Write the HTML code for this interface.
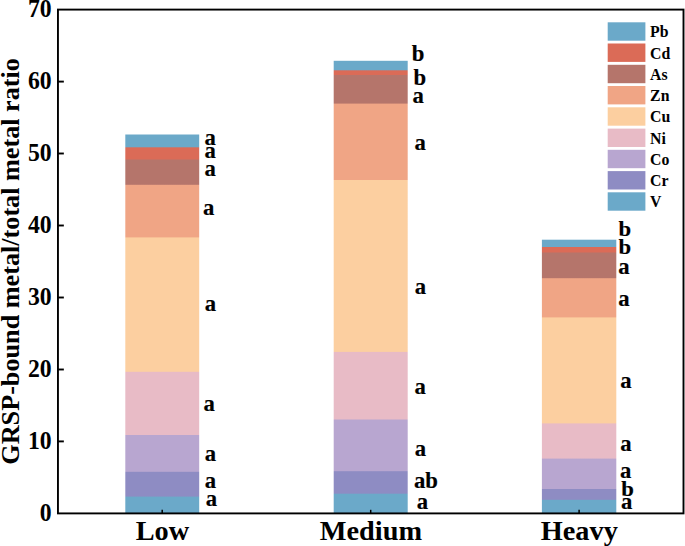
<!DOCTYPE html>
<html><head><meta charset="utf-8"><style>
html,body{margin:0;padding:0;background:#fff;}
svg{display:block}
text{font-family:"Liberation Serif","Times New Roman",serif;font-weight:bold;fill:#000}
</style></head><body>
<svg width="685" height="546" viewBox="0 0 685 546">
<rect width="685" height="546" fill="#fff"/>
<defs>
<linearGradient id="gLow" gradientUnits="userSpaceOnUse" x1="0" y1="134.5" x2="0" y2="515.4"><stop offset="0.00000" stop-color="#6BA9C9"/><stop offset="0.03229" stop-color="#6BA9C9"/><stop offset="0.03492" stop-color="#DB6B57"/><stop offset="0.06432" stop-color="#DB6B57"/><stop offset="0.06695" stop-color="#B5756B"/><stop offset="0.13074" stop-color="#B5756B"/><stop offset="0.13337" stop-color="#F0A585"/><stop offset="0.26884" stop-color="#F0A585"/><stop offset="0.27146" stop-color="#FCCFA0"/><stop offset="0.62169" stop-color="#FCCFA0"/><stop offset="0.62431" stop-color="#E8BBC6"/><stop offset="0.78761" stop-color="#E8BBC6"/><stop offset="0.79023" stop-color="#B8A6D0"/><stop offset="0.88422" stop-color="#B8A6D0"/><stop offset="0.88685" stop-color="#8E8CC3"/><stop offset="0.94933" stop-color="#8E8CC3"/><stop offset="0.95196" stop-color="#6BA9C9"/><stop offset="1.00000" stop-color="#6BA9C9"/></linearGradient>
<linearGradient id="gMedium" gradientUnits="userSpaceOnUse" x1="0" y1="60.8" x2="0" y2="515.4"><stop offset="0.00000" stop-color="#6BA9C9"/><stop offset="0.01980" stop-color="#6BA9C9"/><stop offset="0.02200" stop-color="#DB6B57"/><stop offset="0.03014" stop-color="#DB6B57"/><stop offset="0.03234" stop-color="#B5756B"/><stop offset="0.09305" stop-color="#B5756B"/><stop offset="0.09525" stop-color="#F0A585"/><stop offset="0.26111" stop-color="#F0A585"/><stop offset="0.26331" stop-color="#FCCFA0"/><stop offset="0.63924" stop-color="#FCCFA0"/><stop offset="0.64144" stop-color="#E8BBC6"/><stop offset="0.78795" stop-color="#E8BBC6"/><stop offset="0.79015" stop-color="#B8A6D0"/><stop offset="0.90167" stop-color="#B8A6D0"/><stop offset="0.90387" stop-color="#8E8CC3"/><stop offset="0.95117" stop-color="#8E8CC3"/><stop offset="0.95337" stop-color="#6BA9C9"/><stop offset="1.00000" stop-color="#6BA9C9"/></linearGradient>
<linearGradient id="gHeavy" gradientUnits="userSpaceOnUse" x1="0" y1="239.7" x2="0" y2="515.4"><stop offset="0.00000" stop-color="#6BA9C9"/><stop offset="0.02466" stop-color="#6BA9C9"/><stop offset="0.02829" stop-color="#DB6B57"/><stop offset="0.04461" stop-color="#DB6B57"/><stop offset="0.04824" stop-color="#B5756B"/><stop offset="0.13783" stop-color="#B5756B"/><stop offset="0.14146" stop-color="#F0A585"/><stop offset="0.28001" stop-color="#F0A585"/><stop offset="0.28364" stop-color="#FCCFA0"/><stop offset="0.66449" stop-color="#FCCFA0"/><stop offset="0.66812" stop-color="#E8BBC6"/><stop offset="0.79217" stop-color="#E8BBC6"/><stop offset="0.79579" stop-color="#B8A6D0"/><stop offset="0.90243" stop-color="#B8A6D0"/><stop offset="0.90606" stop-color="#8E8CC3"/><stop offset="0.94160" stop-color="#8E8CC3"/><stop offset="0.94523" stop-color="#6BA9C9"/><stop offset="1.00000" stop-color="#6BA9C9"/></linearGradient>
</defs>
<rect x="125.3" y="134.5" width="73.9" height="378.9" fill="url(#gLow)"/>
<rect x="333.7" y="60.8" width="74.0" height="452.6" fill="url(#gMedium)"/>
<rect x="541.9" y="239.7" width="74.4" height="273.7" fill="url(#gHeavy)"/>
<rect x="57.95" y="9.6" width="625.55" height="503.8" fill="none" stroke="#000" stroke-width="1.9"/>
<text transform="translate(51.6,521.0) scale(1,1.06)" font-size="23.7" text-anchor="end">0</text>
<line x1="57.95" x2="63.85" y1="441.4" y2="441.4" stroke="#000" stroke-width="1.9"/>
<text transform="translate(51.6,449.0) scale(1,1.06)" font-size="23.7" text-anchor="end">10</text>
<line x1="57.95" x2="63.85" y1="369.5" y2="369.5" stroke="#000" stroke-width="1.9"/>
<text transform="translate(51.6,377.1) scale(1,1.06)" font-size="23.7" text-anchor="end">20</text>
<line x1="57.95" x2="63.85" y1="297.5" y2="297.5" stroke="#000" stroke-width="1.9"/>
<text transform="translate(51.6,305.1) scale(1,1.06)" font-size="23.7" text-anchor="end">30</text>
<line x1="57.95" x2="63.85" y1="225.5" y2="225.5" stroke="#000" stroke-width="1.9"/>
<text transform="translate(51.6,233.1) scale(1,1.06)" font-size="23.7" text-anchor="end">40</text>
<line x1="57.95" x2="63.85" y1="153.5" y2="153.5" stroke="#000" stroke-width="1.9"/>
<text transform="translate(51.6,161.1) scale(1,1.06)" font-size="23.7" text-anchor="end">50</text>
<line x1="57.95" x2="63.85" y1="81.6" y2="81.6" stroke="#000" stroke-width="1.9"/>
<text transform="translate(51.6,89.2) scale(1,1.06)" font-size="23.7" text-anchor="end">60</text>
<text transform="translate(51.6,17.2) scale(1,1.06)" font-size="23.7" text-anchor="end">70</text>
<line x1="162.2" x2="162.2" y1="513.4" y2="509.79999999999995" stroke="#000" stroke-width="1.5"/>
<text x="162.4" y="539.8" font-size="28.3" text-anchor="middle">Low</text>
<line x1="370.7" x2="370.7" y1="513.4" y2="509.79999999999995" stroke="#000" stroke-width="1.5"/>
<text x="370.9" y="539.8" font-size="28.3" text-anchor="middle">Medium</text>
<line x1="579.1" x2="579.1" y1="513.4" y2="509.79999999999995" stroke="#000" stroke-width="1.5"/>
<text x="579.3" y="539.8" font-size="28.3" text-anchor="middle">Heavy</text>
<text transform="translate(18.9,261.4) rotate(-90)" font-size="26.2" text-anchor="middle">GRSP-bound metal/total metal ratio</text>
<rect x="607.7" y="22.3" width="37.7" height="18.4" fill="#6BA9C9"/>
<text x="650.1" y="37.3" font-size="15.8">Pb</text>
<rect x="607.7" y="43.5" width="37.7" height="18.4" fill="#DB6B57"/>
<text x="650.1" y="58.5" font-size="15.8">Cd</text>
<rect x="607.7" y="64.8" width="37.7" height="18.4" fill="#B5756B"/>
<text x="650.1" y="79.8" font-size="15.8">As</text>
<rect x="607.7" y="86.0" width="37.7" height="18.4" fill="#F0A585"/>
<text x="650.1" y="101.0" font-size="15.8">Zn</text>
<rect x="607.7" y="107.3" width="37.7" height="18.4" fill="#FCCFA0"/>
<text x="650.1" y="122.3" font-size="15.8">Cu</text>
<rect x="607.7" y="128.6" width="37.7" height="18.4" fill="#E8BBC6"/>
<text x="650.1" y="143.6" font-size="15.8">Ni</text>
<rect x="607.7" y="149.8" width="37.7" height="18.4" fill="#B8A6D0"/>
<text x="650.1" y="164.8" font-size="15.8">Co</text>
<rect x="607.7" y="171.1" width="37.7" height="18.4" fill="#8E8CC3"/>
<text x="650.1" y="186.1" font-size="15.8">Cr</text>
<rect x="607.7" y="192.3" width="37.7" height="18.4" fill="#6BA9C9"/>
<text x="650.1" y="207.3" font-size="15.8">V</text>
<text transform="translate(205.8,506.4) scale(1,1)" font-size="22.7" stroke="#000" stroke-width="0.2">a</text>
<text transform="translate(204.7,488.4) scale(1,1)" font-size="22.7" stroke="#000" stroke-width="0.2">a</text>
<text transform="translate(204.7,460.9) scale(1,1)" font-size="22.7" stroke="#000" stroke-width="0.2">a</text>
<text transform="translate(203.5,410.6) scale(1,1)" font-size="22.7" stroke="#000" stroke-width="0.2">a</text>
<text transform="translate(204.7,310.6) scale(1,1)" font-size="22.7" stroke="#000" stroke-width="0.2">a</text>
<text transform="translate(203.1,215.4) scale(1,1)" font-size="22.7" stroke="#000" stroke-width="0.2">a</text>
<text transform="translate(204.5,176.2) scale(1,1)" font-size="22.7" stroke="#000" stroke-width="0.2">a</text>
<text transform="translate(204.5,157.9) scale(1,1)" font-size="22.7" stroke="#000" stroke-width="0.2">a</text>
<text transform="translate(204.4,145.4) scale(1,1)" font-size="22.7" stroke="#000" stroke-width="0.2">a</text>
<text transform="translate(416.8,508.7) scale(1,1)" font-size="22.7" stroke="#000" stroke-width="0.2">a</text>
<text transform="translate(414.0,488.4) scale(1,1)" font-size="22.7" stroke="#000" stroke-width="0.2">ab</text>
<text transform="translate(414.8,456.4) scale(1,1)" font-size="22.7" stroke="#000" stroke-width="0.2">a</text>
<text transform="translate(414.4,394.2) scale(1,1)" font-size="22.7" stroke="#000" stroke-width="0.2">a</text>
<text transform="translate(414.7,294.2) scale(1,1)" font-size="22.7" stroke="#000" stroke-width="0.2">a</text>
<text transform="translate(414.4,150.1) scale(1,1)" font-size="22.7" stroke="#000" stroke-width="0.2">a</text>
<text transform="translate(412.5,103.2) scale(1,1)" font-size="22.7" stroke="#000" stroke-width="0.2">a</text>
<text transform="translate(413.6,84.8) scale(1,1)" font-size="22.7" stroke="#000" stroke-width="0.2">b</text>
<text transform="translate(411.8,61.4) scale(1,1)" font-size="22.7" stroke="#000" stroke-width="0.2">b</text>
<text transform="translate(621.1,508.9) scale(1,1)" font-size="22.7" stroke="#000" stroke-width="0.2">a</text>
<text transform="translate(621.3,495.7) scale(1,0.9)" font-size="22.7" stroke="#000" stroke-width="0.2">b</text>
<text transform="translate(620.0,478.0) scale(1,1)" font-size="22.7" stroke="#000" stroke-width="0.2">a</text>
<text transform="translate(620.2,450.7) scale(1,1)" font-size="22.7" stroke="#000" stroke-width="0.2">a</text>
<text transform="translate(620.2,387.8) scale(1,1)" font-size="22.7" stroke="#000" stroke-width="0.2">a</text>
<text transform="translate(618.3,306.0) scale(1,1)" font-size="22.7" stroke="#000" stroke-width="0.2">a</text>
<text transform="translate(618.3,273.5) scale(1,1)" font-size="22.7" stroke="#000" stroke-width="0.2">a</text>
<text transform="translate(618.6,253.9) scale(1,0.9)" font-size="22.7" stroke="#000" stroke-width="0.2">b</text>
<text transform="translate(618.6,236.2) scale(1,0.9)" font-size="22.7" stroke="#000" stroke-width="0.2">b</text>
</svg></body></html>
